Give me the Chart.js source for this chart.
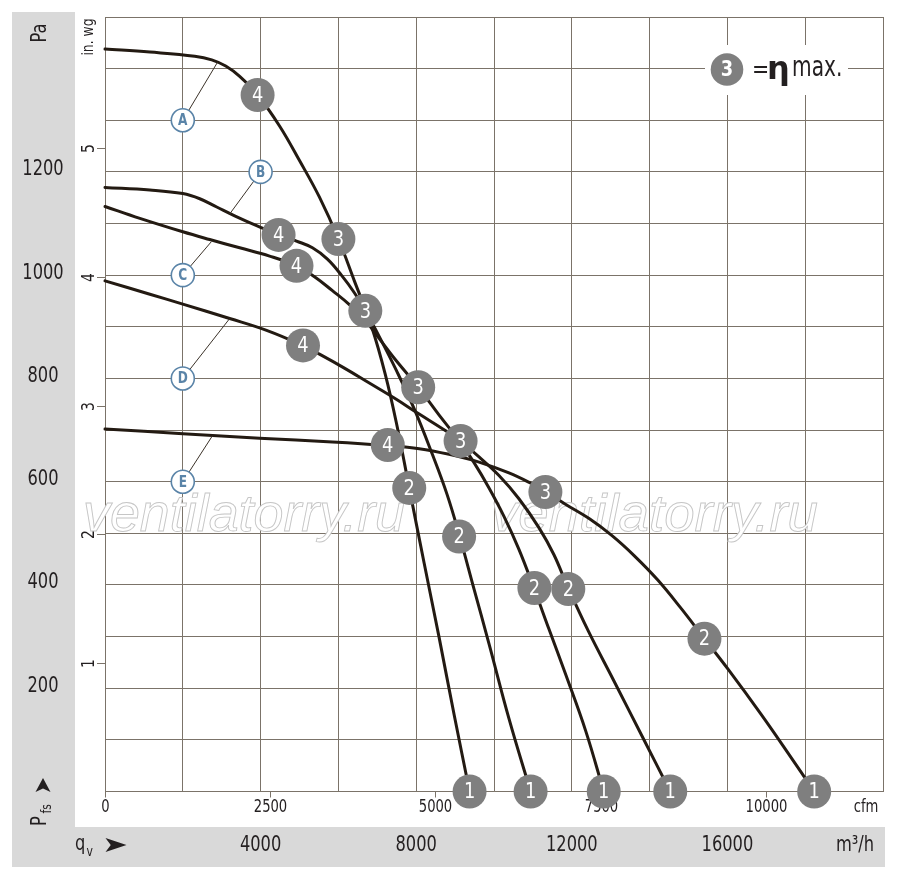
<!DOCTYPE html>
<html>
<head>
<meta charset="utf-8">
<script src="https://cdn.jsdelivr.net/npm/chart.js@4.4.0/dist/chart.umd.min.js"></script>
<style>
html,body{margin:0;padding:0;background:#fff;}
#wrap{width:900px;height:876px;position:relative;}
canvas{display:block;}
</style>
</head>
<body>
<div id="wrap"><canvas id="c" width="900" height="876" style="width:900px;height:876px"></canvas></div>
<script>
// ---------- DATA (flow in m³/h, pressure in Pa) ----------
const qA = [0, 1154, 2308, 2744, 3103, 3462, 3923, 4487, 5000, 5513, 6000, 6410, 6846, 7205, 7513, 7821, 8205, 8590, 8974, 9372];
const pA = [1438, 1432, 1424, 1417, 1405, 1385, 1349, 1289, 1222, 1151, 1070, 989, 902, 808, 706, 588, 442, 298, 149, 0];

const qB = [0, 1154, 2000, 2436, 2872, 3333, 3897, 4462, 4923, 5333, 5718, 6077, 6410, 6692, 7051, 7487, 7949, 8410, 8795, 9103, 9487, 9872, 10385, 10941];
const pB = [1170, 1165, 1158, 1148, 1132, 1115, 1096, 1079, 1066, 1053, 1031, 1000, 966, 931, 881, 816, 741, 654, 575, 498, 392, 286, 141, 0];

const qC = [0, 897, 2000, 2692, 3462, 4231, 4923, 5385, 5846, 6282, 6692, 7051, 7436, 8051, 8590, 9128, 9487, 9872, 10256, 10641, 11026, 11410, 11846, 12359, 12821];
const pC = [1133, 1110, 1084, 1069, 1053, 1037, 1018, 997, 970, 943, 912, 877, 839, 783, 729, 677, 637, 588, 533, 469, 394, 315, 226, 117, 0];

const qD = [0, 1154, 2000, 3205, 4154, 5077, 5513, 6154, 6795, 7436, 8077, 8769, 9128, 9615, 10128, 10641, 11154, 11538, 11897, 12436, 13077, 13795, 14531];
const pD = [989, 963, 944, 916, 893, 864, 847, 820, 791, 762, 731, 698, 679, 648, 612, 567, 511, 459, 396, 309, 215, 109, 0];

const qE = [0, 2000, 3974, 5846, 7256, 8077, 8846, 9615, 10385, 10974, 11333, 11846, 12436, 13026, 13615, 14205, 14795, 15410, 16026, 16872, 17564, 18231];
const pE = [702, 693, 684, 677, 670, 664, 653, 638, 617, 596, 581, 556, 529, 496, 456, 410, 356, 296, 236, 149, 74, 0];

// operating-point markers (numbers 4,3,2,1 on each curve)
const markNum = ['4', '3', '2', '1'];
const mkQA = [3923, 6000, 7821, 9372],   mkPA = [1349, 1070, 588, 0];
const mkQB = [4462, 6692, 9103, 10941],  mkPB = [1078, 931, 494, 0];
const mkQC = [4923, 8051, 11038, 12821], mkPC = [1018, 783, 394, 0];
const mkQD = [5090, 9141, 11910, 14531], mkPD = [864, 679, 392, 0];
const mkQE = [7269, 11321, 15410, 18231], mkPE = [671, 580, 296, 0];

// curve letters and their leader lines
const curveLetters = ['A', 'B', 'C', 'D', 'E'];
const letterQ = [2000, 4000, 2000, 2000, 2000];
const letterP = [1300, 1200, 1000, 800, 600];
const leaderQ = [2890, 3200, 2736, 3205, 2762];
const leaderP = [1412, 1118, 1065, 916, 689];

// axis ticks
const paTicks = [200, 400, 600, 800, 1000, 1200];
const inwgTicks = [1, 2, 3, 4, 5];
const cfmTicks = [0, 2500, 5000, 7500, 10000];
const m3hTicks = [4000, 8000, 12000, 16000];
const M3H_PER_CFM = 1.699;
const PA_PER_INWG = 249.09;

// ---------- STYLE ----------
const FN = '"Liberation Sans Narrow","Arial Narrow","DejaVu Sans Condensed","Liberation Sans",sans-serif';
const TXT = '#231f20';
const GRID = '#7b7369';
const CURVE = '#231a12';
const MARK = '#7f7f7f';
const BLUE = '#5a84a8';
const SX = 0.86; // horizontal squeeze to imitate the condensed face

function pts(q, p) { return q.map((v, i) => ({x: v, y: p[i]})); }

const datasets = [];
const curves = [[qA, pA], [qB, pB], [qC, pC], [qD, pD], [qE, pE]];
curves.forEach(c => datasets.push({
  type: 'line', data: pts(c[0], c[1]), showLine: true, borderColor: CURVE, borderWidth: 3,
  pointRadius: 0, tension: 0.4, fill: false, order: 4, clip: false,
  borderCapStyle: 'round', borderJoinStyle: 'round'
}));
curveLetters.forEach((l, i) => datasets.push({
  type: 'line', data: [{x: letterQ[i], y: letterP[i]}, {x: leaderQ[i], y: leaderP[i]}],
  borderColor: '#3b3229', borderWidth: 1, pointRadius: 0, tension: 0, order: 3
}));
datasets.push({
  type: 'scatter', data: pts(letterQ, letterP), pointRadius: 11.5, pointBackgroundColor: '#ffffff',
  pointBorderColor: BLUE, pointBorderWidth: 1.6, order: 2, isLetters: true
});
const marks = [[mkQA, mkPA], [mkQB, mkPB], [mkQC, mkPC], [mkQD, mkPD], [mkQE, mkPE]];
marks.forEach(m => datasets.push({
  type: 'scatter', data: pts(m[0], m[1]), pointRadius: 17, pointBackgroundColor: MARK,
  pointBorderWidth: 0, order: 1, clip: false, isMarks: true
}));

function arrow(ctx, cx, cy, ang, len, half) {
  ctx.save(); ctx.translate(cx, cy); ctx.rotate(ang);
  ctx.beginPath();
  ctx.moveTo(len / 2, 0); ctx.lineTo(-len / 2, -half); ctx.lineTo(-len / 4, 0); ctx.lineTo(-len / 2, half);
  ctx.closePath(); ctx.fillStyle = TXT; ctx.fill(); ctx.restore();
}
// condensed text helper (align: 'center' | 'left'), rotation optional
function ctext(ctx, s, x, y, font, align, rot, sx) {
  ctx.save(); ctx.translate(x, y); if (rot) ctx.rotate(rot); ctx.scale(sx || SX, 1);
  ctx.font = font; ctx.textAlign = align || 'center'; ctx.textBaseline = 'middle';
  ctx.fillText(s, 0, 0); ctx.restore();
}

const deco = {
  id: 'deco',
  beforeDraw(chart) {
    const ctx = chart.ctx;
    ctx.save();
    ctx.fillStyle = '#ffffff'; ctx.fillRect(0, 0, 900, 876);
    ctx.fillStyle = '#d9d9d9';
    ctx.fillRect(12, 12, 63, 815);
    ctx.fillRect(12, 827, 873, 40);
    ctx.restore();
  },
  beforeDatasetsDraw(chart) {
    const ctx = chart.ctx, xs = chart.scales.x, ys = chart.scales.y, ca = chart.chartArea;
    ctx.save();
    // legend box
    ctx.fillStyle = '#ffffff'; ctx.fillRect(705, 45, 143, 50);
    // watermark
    [[83, 405], [491, 818]].forEach(w => {
      ctx.save();
      ctx.font = 'italic 46px "Liberation Sans","Arial",sans-serif';
      const t = 'ventilatorry.ru';
      const mw = ctx.measureText(t).width;
      ctx.translate(w[0], 531); ctx.scale((w[1] - w[0]) / mw, 1.12);
      ctx.textAlign = 'left'; ctx.textBaseline = 'alphabetic';
      ctx.fillStyle = '#ffffff'; ctx.fillText(t, 0, 0);
      ctx.lineWidth = 0.8; ctx.strokeStyle = '#c6c6c6'; ctx.strokeText(t, 0, 0);
      ctx.restore();
    });
    ctx.fillStyle = TXT; ctx.strokeStyle = GRID; ctx.lineWidth = 1;
    // Pa labels
    paTicks.forEach(v => ctext(ctx, String(v), 43, ys.getPixelForValue(v) - 2, '21px ' + FN));
    ctext(ctx, 'Pa', 41, 33, '21px ' + FN, 'center', -Math.PI / 2);
    // in.wg axis
    inwgTicks.forEach(v => {
      const y = Math.round(ys.getPixelForValue(v * PA_PER_INWG)) + 0.5;
      ctx.beginPath(); ctx.moveTo(97, y); ctx.lineTo(ca.left, y); ctx.stroke();
      ctext(ctx, String(v), 89, y, '18px ' + FN, 'center', -Math.PI / 2);
    });
    ctext(ctx, 'in. wg', 89, 37, '16px ' + FN, 'center', -Math.PI / 2);
    // cfm axis
    cfmTicks.forEach(v => {
      const x = Math.round(xs.getPixelForValue(v * M3H_PER_CFM)) + 0.5;
      ctx.beginPath(); ctx.moveTo(x, ca.bottom); ctx.lineTo(x, ca.bottom + 6); ctx.stroke();
      ctext(ctx, String(v), x, 808, '17px ' + FN);
    });
    ctext(ctx, 'cfm', 866, 808, '17px ' + FN);
    // m3/h axis
    m3hTicks.forEach(v => ctext(ctx, String(v), xs.getPixelForValue(v), 846, '21px ' + FN));
    ctext(ctx, 'm³/h', 855, 846, '21px ' + FN);
    // q_v with arrow
    ctext(ctx, 'q', 75, 845, '21px ' + FN, 'left');
    ctext(ctx, 'v', 86.5, 852, '14px ' + FN, 'left');
    arrow(ctx, 116, 845, 0, 21, 7);
    // P_fs with arrow
    ctext(ctx, 'P', 41, 826, '21px ' + FN, 'left', -Math.PI / 2);
    ctext(ctx, 'fs', 47, 813.5, '14px ' + FN, 'left', -Math.PI / 2);
    arrow(ctx, 43, 785, -Math.PI / 2, 14, 7.5);
    ctx.restore();
  },
  afterDatasetsDraw(chart) {
    const ctx = chart.ctx;
    ctx.save();
    chart.data.datasets.forEach((ds, i) => {
      const meta = chart.getDatasetMeta(i);
      if (ds.isMarks) {
        ctx.fillStyle = '#ffffff';
        meta.data.forEach((pt, j) => ctext(ctx, markNum[j], pt.x, pt.y + 1, '22px ' + FN, 'center', 0, 0.9));
      } else if (ds.isLetters) {
        ctx.fillStyle = BLUE;
        meta.data.forEach((pt, j) => ctext(ctx, curveLetters[j], pt.x, pt.y + 1, 'bold 15px ' + FN, 'center', 0, 0.9));
      }
    });
    // legend
    ctx.beginPath(); ctx.arc(727, 69.5, 16.3, 0, Math.PI * 2); ctx.fillStyle = MARK; ctx.fill();
    ctx.fillStyle = '#ffffff'; ctext(ctx, '3', 727, 70.5, 'bold 22px ' + FN, 'center', 0, 0.9);
    ctx.fillStyle = TXT;
    ctext(ctx, '=', 752, 71, '24px ' + FN, 'left', 0, 0.95);
    ctx.font = 'bold 32px "DejaVu Sans",sans-serif'; ctx.textAlign = 'left'; ctx.textBaseline = 'alphabetic';
    ctx.fillText('η', 767, 79);
    ctext(ctx, 'max.', 792, 69, '28px ' + FN, 'left', 0, 0.8);
    ctx.restore();
  }
};

new Chart(document.getElementById('c'), {
  type: 'scatter',
  data: {datasets},
  options: {
    responsive: false, animation: false, devicePixelRatio: 1,
    layout: {padding: {left: 105, right: 15, top: 12.5, bottom: 84.5}},
    plugins: {legend: {display: false}, tooltip: {enabled: false}},
    events: [],
    scales: {
      x: {type: 'linear', min: 0, max: 20000,
          ticks: {display: false, stepSize: 2000},
          grid: {color: GRID, lineWidth: 1, drawTicks: false},
          border: {display: true, color: GRID, width: 1}},
      y: {type: 'linear', min: 0, max: 1500,
          ticks: {display: false, stepSize: 100},
          grid: {color: GRID, lineWidth: 1, drawTicks: false},
          border: {display: true, color: GRID, width: 1}}
    }
  },
  plugins: [deco]
});
</script>
</body>
</html>
